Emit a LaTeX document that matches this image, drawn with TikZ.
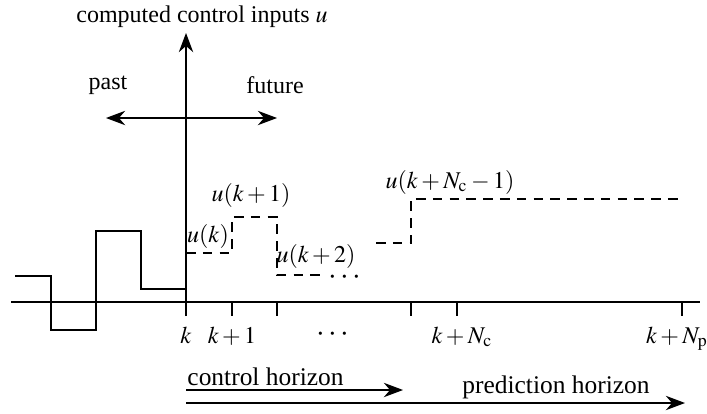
\documentclass[tikz,border=0pt]{standalone}
\usepackage{mathptmx}
\usepackage{fontspec}
\setmainfont{Liberation Serif}
\usetikzlibrary{arrows.meta}

\begin{document}
\begin{tikzpicture}[
  x=0.4167pt, y=-0.4167pt,
  axis/.style={line width=0.45pt},
  signal/.style={line width=0.55pt},
  plan/.style={line width=0.55pt,dash pattern=on 4pt off 3pt},
  arrow/.style={-{Stealth[length=8pt,width=6pt]},line width=0.5pt},
  lbl/.style={inner sep=0pt,font=\normalsize},
  dotlbl/.style={inner sep=0pt,font=\fontsize{13}{13}\selectfont},
  hlbl/.style={inner sep=0pt,font=\fontsize{10.6}{12}\selectfont}
]
\useasboundingbox (0,0) rectangle (707,414);
% axes
\coordinate (tl) at (11,302);
\coordinate (tr) at (700,302);
\coordinate (ub) at (186,316);
\coordinate (ut) at (186,33);
\draw[axis] (tl) -- (tr);
\draw[axis,arrow] (ub) -- (ut);
\foreach \x in {232,277,411,457,682}
  \draw[axis] (\x,302) -- (\x,316);
\node[lbl] (title) at (202,17) {computed control inputs $u$};
% past / future
\coordinate (pl) at (106,118);
\coordinate (pr) at (277,118);
\draw[arrow,{Stealth[length=8pt,width=6pt]}-{Stealth[length=8pt,width=6pt]}] (pl) -- (pr);
\node[lbl] (past) at (108,85) {past};
\node[lbl] (future) at (275,85) {future};
% past inputs
\draw[signal] (15,276) -- (51,276) -- (51,330) -- (96,330) -- (96,231)
  -- (141,231) -- (141,289) -- (186,289);
% computed inputs
\draw[plan] (186,253) -- (232,253) -- (232,217) -- (277,217) -- (277,275) -- (322,275);
\draw[plan] (376,243) -- (411,243) -- (411,199) -- (678,199);
\node[dotlbl,anchor=base] (dots) at (345,284) {$\cdots$};
\node[lbl] (uk) at (208,237) {$u(k)$};
\node[lbl] (uk1) at (251,195) {$u(k+1)$};
\node[lbl] (uk2) at (316,256) {$u(k+2)$};
\node[lbl] (ukNc) at (450,182) {$u(k+N_{\mathrm{c}}-1)$};
% time labels
\node[lbl,anchor=base] (tk) at (186,343) {$k$};
\node[lbl,anchor=base] (tk1) at (232,343) {$k+1$};
\node[dotlbl,anchor=base] (tdots) at (333,341) {$\cdots$};
\node[lbl,anchor=base] (tkNc) at (462,343) {$k+N_{\mathrm{c}}$};
\node[lbl,anchor=base] (tkNp) at (677,343) {$k+N_{\mathrm{p}}$};
% horizons
\coordinate (c0) at (186,390);
\coordinate (c1) at (403,390);
\coordinate (p0) at (186,403);
\coordinate (p1) at (685,403);
\draw[arrow] (c0) -- (c1);
\draw[arrow] (p0) -- (p1);
\node[hlbl,anchor=west] (ctrl) at (187,377) {control horizon};
\node[hlbl] (pred) at (556,387) {prediction horizon};
\end{tikzpicture}
\end{document}
